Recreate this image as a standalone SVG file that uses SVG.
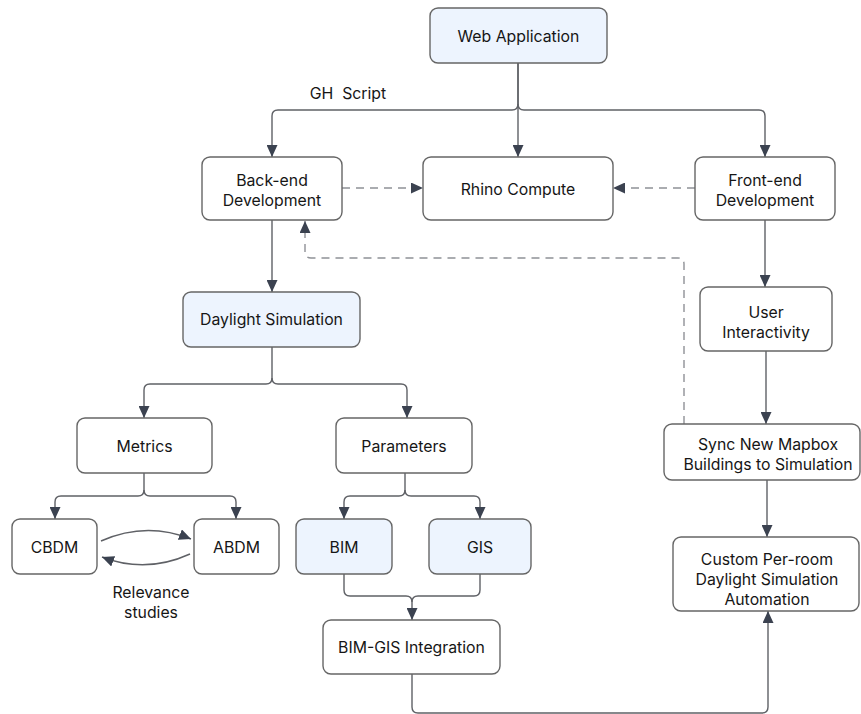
<svg xmlns="http://www.w3.org/2000/svg" width="861" height="714" viewBox="0 0 861 714">
<defs>
<marker id="ah" markerUnits="userSpaceOnUse" markerWidth="12" markerHeight="11" refX="12" refY="5.5" orient="auto">
<path d="M0,0 L12,5.5 L0,11 z" fill="#3b4250"/>
</marker>
<style>
.box{fill:#ffffff;stroke:#666666;stroke-width:1.4}
.hl{fill:#edf4fe;stroke:#666666;stroke-width:1.4}
.t{font-family:Inter,"Liberation Sans",Arial,sans-serif;font-size:15.8px;fill:#161616;text-anchor:middle;dominant-baseline:central;white-space:pre}
.c{fill:none;stroke:#5f6166;stroke-width:1.4;marker-end:url(#ah)}
.cn{fill:none;stroke:#5f6166;stroke-width:1.4}
.d{fill:none;stroke:#8f9196;stroke-width:1.4;stroke-dasharray:8 6;marker-end:url(#ah)}
</style>
</defs>
<rect width="861" height="714" fill="#ffffff"/>
<g id="connectors">
<path class="c" d="M518,63 V104 Q518,110 512,110 H278 Q272,110 272,116 V157"/>
<path class="c" d="M518,63 V157"/>
<path class="c" d="M518,104 Q518,110 524,110 H759 Q765,110 765,116 V157"/>
<path class="d" d="M342,188 H423"/>
<path class="d" d="M695,188 H613"/>
<path class="c" d="M272,220 V292"/>
<path class="d" d="M684,424 V264 Q684,258 678,258 H311 Q305,258 305,252 V221"/>
<path class="c" d="M765,220 V287"/>
<path class="c" d="M766,351 V424"/>
<path class="c" d="M767,480 V537"/>
<path class="c" d="M272,347 V378 Q272,384 266,384 H150 Q144,384 144,390 V418"/>
<path class="c" d="M272,378 Q272,384 278,384 H401 Q407,384 407,390 V418"/>
<path class="c" d="M144,473 V490 Q144,496 138,496 H61 Q55,496 55,502 V519"/>
<path class="c" d="M144,490 Q144,496 150,496 H230 Q236,496 236,502 V519"/>
<path class="c" d="M405,473 V490 Q405,496 399,496 H350 Q344,496 344,502 V519"/>
<path class="c" d="M405,490 Q405,496 411,496 H474 Q480,496 480,502 V519"/>
<path class="c" d="M344,574 V590 Q344,596 350,596 H406 Q412,596 412,602 V620"/>
<path class="cn" d="M480,574 V590 Q480,596 474,596 H418 Q412,596 412,602"/>
<path class="c" d="M412,674 V707 Q412,713 418,713 H762 Q768,713 768,707 V611"/>
<path class="c" d="M101,541 Q146,521 191,539"/>
<path class="c" d="M190,554 Q146,574 102,557"/>
</g>
<g id="web-application"><rect class="hl" x="430" y="8" width="177" height="55" rx="8"/><text class="t" x="518.5" y="36">Web Application</text></g>
<g id="gh-script-label"><text class="t" x="348" y="93" xml:space="preserve">GH  Script</text></g>
<g id="back-end"><rect class="box" x="202" y="157" width="140" height="63" rx="8"/><text class="t" x="272" y="180">Back-end</text><text class="t" x="272" y="200">Development</text></g>
<g id="rhino-compute"><rect class="box" x="423" y="157" width="190" height="63" rx="8"/><text class="t" x="518" y="189">Rhino Compute</text></g>
<g id="front-end"><rect class="box" x="695" y="157" width="140" height="63" rx="8"/><text class="t" x="765" y="180">Front-end</text><text class="t" x="765" y="200">Development</text></g>
<g id="daylight-simulation"><rect class="hl" x="183" y="292" width="177" height="55" rx="8"/><text class="t" x="271.5" y="319">Daylight Simulation</text></g>
<g id="user-interactivity"><rect class="box" x="700" y="287" width="132" height="64" rx="8"/><text class="t" x="766" y="312">User</text><text class="t" x="766" y="332">Interactivity</text></g>
<g id="metrics"><rect class="box" x="77" y="418" width="135" height="55" rx="8"/><text class="t" x="144.5" y="446">Metrics</text></g>
<g id="parameters"><rect class="box" x="336" y="418" width="136" height="55" rx="8"/><text class="t" x="404" y="446">Parameters</text></g>
<g id="sync"><rect class="box" x="664" y="424" width="196" height="56" rx="8"/><text class="t" x="768" y="444">Sync New Mapbox</text><text class="t" x="768" y="464">Buildings to Simulation</text></g>
<g id="cbdm"><rect class="box" x="12" y="519" width="85" height="55" rx="8"/><text class="t" x="54.5" y="547">CBDM</text></g>
<g id="abdm"><rect class="box" x="194" y="519" width="85" height="55" rx="8"/><text class="t" x="236.5" y="547">ABDM</text></g>
<g id="relevance-label"><text class="t" x="151" y="592">Relevance</text><text class="t" x="151" y="612">studies</text></g>
<g id="bim"><rect class="hl" x="296" y="519" width="96" height="55" rx="8"/><text class="t" x="344" y="547">BIM</text></g>
<g id="gis"><rect class="hl" x="429" y="519" width="102" height="55" rx="8"/><text class="t" x="480" y="547">GIS</text></g>
<g id="bim-gis"><rect class="box" x="323" y="620" width="177" height="54" rx="8"/><text class="t" x="411.5" y="647">BIM-GIS Integration</text></g>
<g id="custom"><rect class="box" x="673" y="537" width="186" height="74" rx="8"/><text class="t" x="767" y="559">Custom Per-room</text><text class="t" x="767" y="579">Daylight Simulation</text><text class="t" x="767" y="599">Automation</text></g>
</svg>
